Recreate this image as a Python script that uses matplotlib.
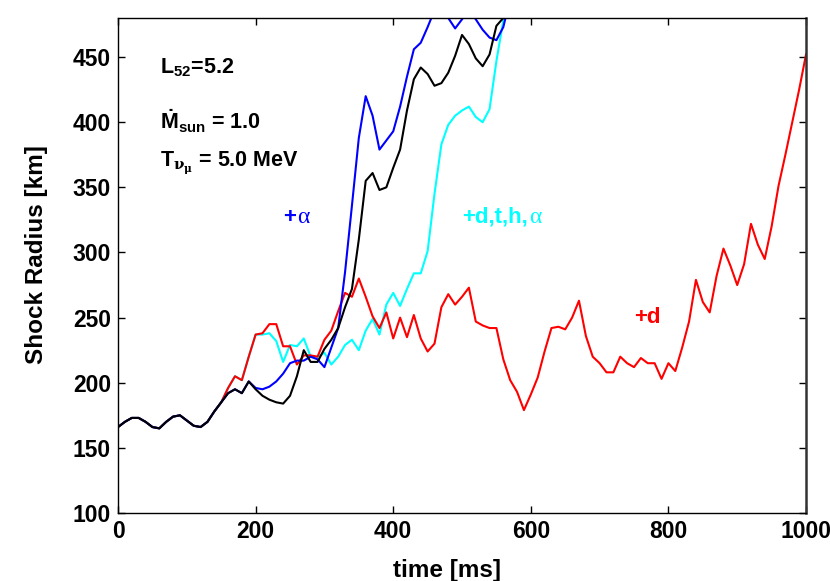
import numpy as np
import matplotlib
matplotlib.use("Agg")
import matplotlib.pyplot as plt

# fonts: bold helvetica-like text, symbol-like greek
plt.rcParams['font.family'] = ['Liberation Sans', 'DejaVu Sans']
plt.rcParams['font.weight'] = 'bold'
plt.rcParams['mathtext.fontset'] = 'custom'
plt.rcParams['mathtext.rm'] = 'Liberation Sans:bold'
plt.rcParams['mathtext.bf'] = 'Liberation Sans:bold'
plt.rcParams['mathtext.it'] = 'DejaVu Serif'

# common start of all runs (0 - 150 ms)
t_common = [0, 10, 20, 30, 40, 50, 60, 70, 80, 90, 100, 110, 120, 130, 140, 150]
r_common = [166, 170, 173, 173, 170, 166, 165, 170, 174, 175, 171, 167, 166, 170, 178, 185]

# +d run (red)
t_red = list(range(160, 1001, 10))
r_red = [196, 205, 202, 220, 237, 238, 245, 245, 228, 228,
         214, 221, 221, 220, 233, 240, 255, 269, 266, 280,
         266, 251, 242, 254, 234, 250, 235, 252, 234, 224,
         230, 258, 268, 260, 266, 273, 247, 244, 242, 242,
         218, 202, 193, 179, 191, 204, 224, 242, 243, 241,
         250, 263, 236, 220, 215, 208, 208, 220, 215, 212,
         219, 215, 215, 203, 215, 209, 227, 247, 279, 262,
         254, 282, 303, 290, 275, 291, 322, 306, 295, 320,
         351, 375, 400, 425, 452]

# +d,t,h,alpha run (cyan)
t_cyan = list(range(160, 571, 10))
r_cyan = [196, 205, 202, 220, 237, 237, 238, 232, 216, 229,
          228, 234, 220, 220, 223, 214, 220, 229, 233, 225,
          240, 249, 237, 260, 269, 259, 272, 284, 284, 301,
          345, 383, 398, 405, 409, 412, 404, 400, 410, 447,
          478, 500]

# +alpha run (blue)
t_blue = list(range(160, 571, 10))
r_blue = [192, 195, 192, 201, 196, 195, 197, 201, 207, 215,
          217, 217, 220, 218, 212, 227, 242, 285, 336, 388,
          420, 405, 379, 386, 393, 412, 435, 456, 461, 473,
          486, 488, 480, 472, 479, 486, 479, 471, 465, 463,
          473, 495]

# reference run (black)
t_black = list(range(160, 571, 10))
r_black = [192, 195, 192, 201, 195, 190, 187, 185, 184, 190,
           205, 225, 216, 216, 226, 233, 242, 258, 272, 310,
           355, 361, 348, 350, 365, 379, 409, 433, 442, 437,
           428, 430, 438, 451, 467, 460, 449, 443, 452, 474,
           480, 495]

fig = plt.figure(figsize=(8.3, 5.81), dpi=100)
ax = fig.add_axes([0.1422, 0.117, 0.8289, 0.852])

lw = 1.5
ax.plot(t_common + t_cyan, r_common + r_cyan, color='#00ffff', lw=lw)
ax.plot(t_common + t_red, r_common + r_red, color='#ff0000', lw=lw)
ax.plot(t_common + t_blue, r_common + r_blue, color='#0000ff', lw=lw)
ax.plot(t_common + t_black, r_common + r_black, color='black', lw=lw)

ax.set_xlim(0, 1000)
ax.set_ylim(100, 480)
ax.set_xticks([0, 200, 400, 600, 800, 1000])
ax.set_yticks([100, 150, 200, 250, 300, 350, 400, 450])
ax.tick_params(direction='in', length=5, width=1, top=True, right=True,
               labelsize=16.5, pad=5)
for lab in ax.get_xticklabels() + ax.get_yticklabels():
    lab.set_fontweight('bold')
for side in ['left', 'bottom', 'top']:
    ax.spines[side].set_linewidth(1.0)
ax.spines['right'].set_linewidth(1.8)
ax.spines['right'].set_color('#333333')

ax.set_xlabel('time [ms]', fontsize=17.5, fontweight='bold')
ax.set_ylabel('Shock Radius [km]', fontsize=17.5, fontweight='bold')
ax.xaxis.set_label_coords(0.478, -0.092)
ax.yaxis.set_label_coords(-0.102, 0.523)

# parameter annotations
fs = 15.5
ax.text(61, 442, r'L$_{\mathrm{52}}$=5.2', fontsize=fs, fontweight='bold', va='center')
ax.text(61, 401, r'$\dot{\mathrm{M}}_{\mathrm{sun}}$ = 1.0', fontsize=fs, fontweight='bold', va='center')
ax.text(61, 369, r'T$_{\nu_{\mu}}$ = 5.0 MeV', fontsize=fs, fontweight='bold', va='center')


# curve labels: bold part plus a thin symbol-style alpha
def label(x, y, txt, color, greek=None):
    t = ax.text(x, y, txt, color=color, fontsize=16, fontweight='bold', va='center')
    if greek:
        fig.canvas.draw()
        bb = t.get_window_extent()
        xd = ax.transData.inverted().transform((bb.x1 + 1, 0))[0]
        ax.text(xd, y, greek, color=color, fontsize=17, fontweight='normal',
                family='Liberation Serif', va='center')


label(240, 327, '+', '#0000ff', 'α')
label(500, 327, '+d,t,h,', '#00ffff', 'α')
label(750, 250, '+d', '#ff0000')

fig.savefig('out.png', dpi=100)
